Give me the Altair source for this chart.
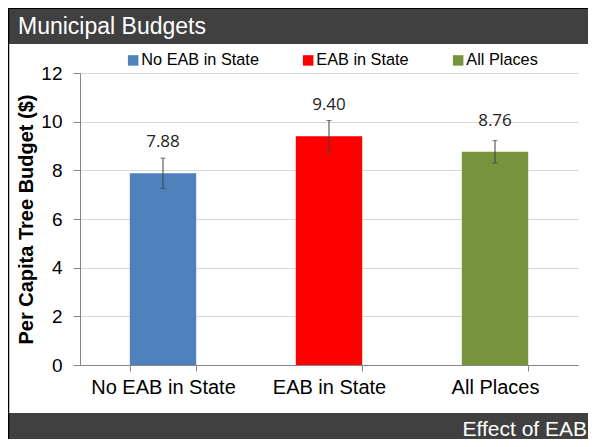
import altair as alt
import pandas as pd

categories = ["No EAB in State", "EAB in State", "All Places"]
values = [7.88, 9.40, 8.76]
errors = [0.62, 0.65, 0.46]
value_labels = ["7.88", "9.40", "8.76"]
colors = ["#4f81bd", "#ff0000", "#77933c"]
y_ticks = [0, 2, 4, 6, 8, 10, 12]
header_text = "Municipal Budgets"
footer_text = "Effect of EAB"
y_title = "Per Capita Tree Budget ($)"

FONT = "Liberation Sans"
AXIS_GREY = "#868686"

df = pd.DataFrame({"cat": categories, "value": values, "err": errors, "label": value_labels})
one = pd.DataFrame({"k": [0]})

x_enc = alt.X(
    "cat:N", sort=categories,
    scale=alt.Scale(paddingInner=0.6, paddingOuter=0.3),
    axis=alt.Axis(title=None, labelAngle=0, labelFontSize=20, labelFont=FONT,
                  labelColor="black", labelPadding=6, tickBand="extent",
                  tickSize=6, domainColor=AXIS_GREY, tickColor=AXIS_GREY, grid=False),
)
y_axis = alt.Axis(values=y_ticks, title=y_title, titleFontSize=20, titleFontWeight="bold",
                  titleFont=FONT, titleColor="black", titleX=-48, titleBaseline="alphabetic",
                  labelFontSize=19, labelFont=FONT, labelColor="black", labelPadding=11,
                  tickSize=7, gridColor="#d9d9d9", domainColor=AXIS_GREY, tickColor=AXIS_GREY)
y_scale = alt.Scale(domain=[0, 12], nice=False)

base = alt.Chart(df)

bars = base.mark_bar().encode(
    x=x_enc,
    y=alt.Y("value:Q", scale=y_scale, axis=y_axis),
    color=alt.Color("cat:N", sort=categories,
                    scale=alt.Scale(domain=categories, range=colors),
                    legend=alt.Legend(orient="none", legendX=45, legendY=-21, direction="horizontal",
                                      title=None, symbolType="square", symbolSize=110,
                                      symbolStrokeWidth=0, labelFontSize=16.3, labelFont=FONT,
                                      labelColor="black", columnPadding=41, labelOffset=0)),
)

err = base.transform_calculate(lo="datum.value - datum.err", hi="datum.value + datum.err")
err_rule = err.mark_rule(color="#404040", strokeWidth=1).encode(
    x=alt.X("cat:N", sort=categories), y="lo:Q", y2="hi:Q")
cap_lo = err.mark_tick(color="#404040", size=5, thickness=1, orient="horizontal").encode(
    x=alt.X("cat:N", sort=categories), y="lo:Q")
cap_hi = err.mark_tick(color="#404040", size=5, thickness=1, orient="horizontal").encode(
    x=alt.X("cat:N", sort=categories), y="hi:Q")

labels = base.mark_text(dy=-26, baseline="alphabetic", fontSize=17, font="Open Sans",
                        color="#222222").encode(
    x=alt.X("cat:N", sort=categories), y="value:Q", text="label:N")

# decorative frame, header and footer (plot-relative pixel offsets)
header = alt.Chart(one).mark_rect(color="#404040").encode(
    x=alt.value(-72), x2=alt.value(508), y=alt.value(-64), y2=alt.value(-29))
footer = alt.Chart(one).mark_rect(color="#404040").encode(
    x=alt.value(-72), x2=alt.value(508), y=alt.value(340), y2=alt.value(366))
top_line = alt.Chart(one).mark_rule(color="black", strokeWidth=1).encode(
    x=alt.value(-72), x2=alt.value(508), y=alt.value(-64.5))
left_line = alt.Chart(one).mark_rule(color="black", strokeWidth=1.5).encode(
    x=alt.value(-71.5), y=alt.value(-65), y2=alt.value(366))
header_txt = alt.Chart(one).mark_text(align="left", baseline="alphabetic", fontSize=23,
                                      font=FONT, color="white").encode(
    x=alt.value(-62), y=alt.value(-39), text=alt.value(header_text))
footer_txt = alt.Chart(one).mark_text(align="right", baseline="alphabetic", fontSize=21,
                                      font=FONT, color="white").encode(
    x=alt.value(507), y=alt.value(363), text=alt.value(footer_text))

chart = alt.layer(
    header, footer, bars, err_rule, cap_lo, cap_hi, labels,
    top_line, left_line, header_txt, footer_txt,
).properties(
    width=498, height=292,
    autosize=alt.AutoSizeParams(type="none"),
    padding={"left": 72, "top": 65, "right": 10, "bottom": 74},
    background="white",
).configure_view(strokeWidth=0)

chart.save("out.html", embed_options={"renderer": "svg", "actions": False})
